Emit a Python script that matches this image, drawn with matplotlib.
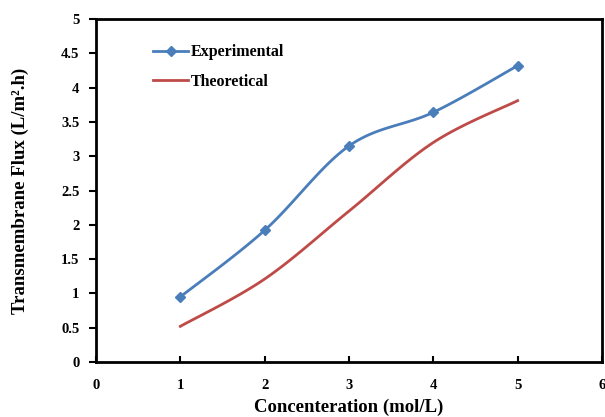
import matplotlib
matplotlib.use("Agg")
import matplotlib.pyplot as plt
import numpy as np

# Values
conc = [1, 2, 3, 4, 5]
flux_exp = [0.95, 1.92, 3.15, 3.64, 4.32]
flux_theo = [0.52, 1.21, 2.20, 3.20, 3.81]

x_ticks = [0, 1, 2, 3, 4, 5, 6]
y_ticks = [0, 0.5, 1, 1.5, 2, 2.5, 3, 3.5, 4, 4.5, 5]

blue = "#4A7EBB"
red = "#BE4B48"

plt.rcParams["font.family"] = ["Liberation Serif", "DejaVu Serif"]
plt.rcParams["font.weight"] = "bold"


def smooth(xs, ys, n=30):
    # Excel-like smoothed line: Catmull-Rom via cubic Bezier segments
    p = np.column_stack([xs, ys]).astype(float)
    p = np.vstack([p[0], p, p[-1]])
    out = []
    t = np.linspace(0, 1, n)[:, None]
    for i in range(1, len(p) - 2):
        p0, p3 = p[i], p[i + 1]
        c1 = p0 + (p[i + 1] - p[i - 1]) / 6
        c2 = p3 - (p[i + 2] - p[i]) / 6
        seg = ((1 - t) ** 3) * p0 + 3 * ((1 - t) ** 2) * t * c1 + 3 * (1 - t) * t ** 2 * c2 + t ** 3 * p3
        out.append(seg if i == 1 else seg[1:])
    out = np.vstack(out)
    return out[:, 0], out[:, 1]


fig = plt.figure(figsize=(6.05, 4.17), dpi=100)
ax = fig.add_axes([0.1587, 0.1319, 0.8363, 0.8225])

sx, sy = smooth(conc, flux_exp)
ax.plot(sx, sy, color=blue, lw=2.0, zorder=3)
ax.plot(conc, flux_exp, ls="none", marker="D", ms=5.5, color=blue, zorder=4)
tx, ty = smooth(conc, flux_theo)
ax.plot(tx, ty, color=red, lw=2.0, zorder=3)

# legend handles
ax.plot([], [], color=blue, lw=2.0, marker="D", ms=5.5, label="Experimental")
ax.plot([], [], color=red, lw=2.0, label="Theoretical")
ax.legend(loc="upper left", bbox_to_anchor=(0.1, 0.945), frameon=False,
          prop={"size": 11.5, "weight": "bold"}, handlelength=2.2,
          handletextpad=0.15, labelspacing=0.85, borderaxespad=0)

ax.set_xlim(0, 6)
ax.set_ylim(0, 5)
ax.set_xticks(x_ticks)
ax.set_yticks(y_ticks)
ax.set_yticklabels([f"{v:g}" for v in y_ticks])
ax.tick_params(axis="y", direction="out", length=5, width=1.5, labelsize=10.5, pad=7)
ax.tick_params(axis="x", direction="in", length=4, width=1.5, labelsize=10.5, pad=12)
for s in ax.spines.values():
    s.set_linewidth(2.0)

ax.set_xlabel("Concenteration (mol/L)", fontsize=13.5, fontweight="bold", labelpad=5)
ax.set_ylabel("Transmembrane Flux (L/m².h)", fontsize=13.5, fontweight="bold", labelpad=23)

fig.savefig("out.png", dpi=100, facecolor="white")
plt.close(fig)
